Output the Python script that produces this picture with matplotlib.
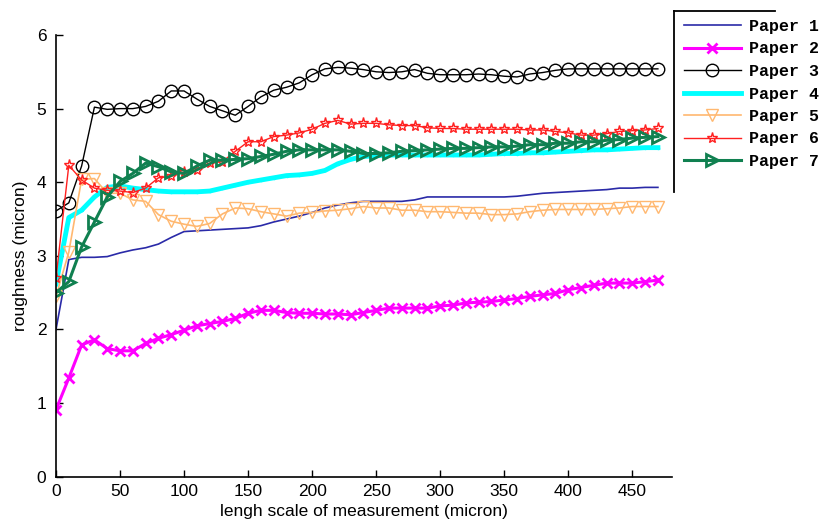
import matplotlib
matplotlib.use("Agg")
import matplotlib.pyplot as plt
from matplotlib.lines import Line2D

x = list(range(0, 480, 10))

paper1 = [2.00, 2.95, 2.98, 2.98, 2.99, 3.04, 3.08, 3.11, 3.16, 3.25,
          3.33, 3.34, 3.35, 3.36, 3.37, 3.38, 3.41, 3.46, 3.50, 3.54,
          3.59, 3.65, 3.69, 3.72, 3.74, 3.74, 3.74, 3.74, 3.76, 3.80,
          3.80, 3.80, 3.80, 3.80, 3.80, 3.80, 3.81, 3.83, 3.85, 3.86,
          3.87, 3.88, 3.89, 3.90, 3.92, 3.92, 3.93, 3.93]
paper2 = [0.91, 1.34, 1.79, 1.86, 1.74, 1.71, 1.71, 1.81, 1.88, 1.93,
          1.99, 2.05, 2.08, 2.11, 2.15, 2.22, 2.26, 2.26, 2.23, 2.22,
          2.22, 2.21, 2.21, 2.20, 2.23, 2.26, 2.29, 2.29, 2.29, 2.29,
          2.32, 2.33, 2.36, 2.37, 2.38, 2.40, 2.42, 2.45, 2.47, 2.49,
          2.54, 2.57, 2.60, 2.63, 2.63, 2.63, 2.65, 2.67]
paper3 = [3.61, 3.72, 4.22, 5.02, 4.99, 5.00, 5.00, 5.03, 5.10, 5.24,
          5.24, 5.13, 5.03, 4.97, 4.91, 5.03, 5.16, 5.25, 5.29, 5.35,
          5.46, 5.54, 5.56, 5.55, 5.53, 5.50, 5.49, 5.50, 5.53, 5.48,
          5.46, 5.46, 5.46, 5.47, 5.46, 5.44, 5.43, 5.47, 5.49, 5.52,
          5.54, 5.54, 5.54, 5.54, 5.54, 5.54, 5.54, 5.54]
paper4 = [2.62, 3.52, 3.62, 3.80, 3.93, 3.95, 3.92, 3.90, 3.88, 3.87,
          3.87, 3.87, 3.88, 3.92, 3.96, 4.00, 4.03, 4.06, 4.09, 4.10,
          4.12, 4.16, 4.25, 4.31, 4.35, 4.36, 4.37, 4.37, 4.37, 4.37,
          4.37, 4.37, 4.37, 4.37, 4.38, 4.39, 4.39, 4.40, 4.40, 4.41,
          4.42, 4.43, 4.44, 4.44, 4.45, 4.46, 4.47, 4.47]
paper5 = [2.45, 3.05, 4.04, 4.05, 3.85, 3.85, 3.76, 3.74, 3.56, 3.47,
          3.43, 3.40, 3.44, 3.57, 3.65, 3.64, 3.60, 3.57, 3.54, 3.58,
          3.59, 3.61, 3.62, 3.64, 3.67, 3.65, 3.65, 3.62, 3.62, 3.60,
          3.60, 3.59, 3.58, 3.58, 3.56, 3.56, 3.57, 3.60, 3.62, 3.63,
          3.63, 3.63, 3.63, 3.64, 3.65, 3.67, 3.67, 3.67]
paper6 = [2.70, 4.23, 4.03, 3.92, 3.89, 3.88, 3.86, 3.92, 4.06, 4.08,
          4.14, 4.16, 4.26, 4.28, 4.42, 4.55, 4.55, 4.62, 4.64, 4.67,
          4.72, 4.80, 4.84, 4.79, 4.80, 4.80, 4.78, 4.77, 4.77, 4.74,
          4.73, 4.73, 4.72, 4.72, 4.72, 4.72, 4.72, 4.71, 4.71, 4.69,
          4.67, 4.64, 4.64, 4.66, 4.69, 4.70, 4.71, 4.73]
paper7 = [2.50, 2.65, 3.12, 3.46, 3.80, 4.01, 4.12, 4.26, 4.21, 4.14,
          4.12, 4.22, 4.30, 4.30, 4.31, 4.32, 4.35, 4.38, 4.42, 4.44,
          4.44, 4.44, 4.44, 4.42, 4.39, 4.39, 4.40, 4.42, 4.43, 4.44,
          4.45, 4.46, 4.46, 4.47, 4.48, 4.48, 4.49, 4.51, 4.51, 4.53,
          4.53, 4.55, 4.55, 4.57, 4.58, 4.60, 4.61, 4.62]

labels = ["Paper 1", "Paper 2", "Paper 3", "Paper 4", "Paper 5", "Paper 6", "Paper 7"]
xticks = [0, 50, 100, 150, 200, 250, 300, 350, 400, 450]
yticks = [0, 1, 2, 3, 4, 5, 6]

plt.rcParams['font.family'] = ['Liberation Sans', 'DejaVu Sans']

fig = plt.figure(figsize=(8.34, 5.24), dpi=100)
ax = fig.add_axes([56/834, 1-476.7/524, (672-56)/834, (476.7-35)/524])

h1, = ax.plot(x, paper1, color='#2a2aa8', lw=1.2, label=labels[0])
h2, = ax.plot(x, paper2, color='#ff00ff', lw=2.2, marker='x', ms=7, mew=2, label=labels[1])
h3, = ax.plot(x, paper3, color='black', lw=1.0, marker='o', ms=9, mfc='none', mew=1.0, label=labels[2])
h4, = ax.plot(x, paper4, color='#00ffff', lw=3.5, marker='.', ms=3, label=labels[3])
h5, = ax.plot(x, paper5, color='#ffb870', lw=1.2, marker='v', ms=9, mfc='none', mew=1.0, label=labels[4])
h6, = ax.plot(x, paper6, color='#ff2020', lw=1.0, marker='*', ms=8, mfc='none', mew=1.0, label=labels[5])
h7, = ax.plot(x, paper7, color='#108050', lw=2.2, marker='>', ms=9, mfc='none', mew=2.0, label=labels[6])

ax.set_xlim(0, 481)
ax.set_ylim(0, 6)
ax.set_xticks(xticks)
ax.set_yticks(yticks)
ax.spines['top'].set_visible(False)
ax.spines['right'].set_visible(False)
for s in ('left', 'bottom'):
    ax.spines[s].set_linewidth(1.2)
ax.tick_params(direction='in', length=5, width=1, labelsize=12.5, pad=5)
ax.tick_params(axis='y', pad=7)
ax.set_xlabel("lengh scale of measurement (micron)", fontsize=12.5, labelpad=4)
ax.set_ylabel("roughness (micron)", fontsize=12.5, labelpad=6)

leg = fig.legend(handles=[h1, h2, h3, h4, h5, h6, h7], loc='upper left',
                 bbox_to_anchor=(684/834, 1-19/524), frameon=False,
                 prop={'family': 'Liberation Mono', 'weight': 'bold', 'size': 12},
                 handlelength=3.4, labelspacing=0.45, handletextpad=0.5,
                 borderaxespad=0, borderpad=0)

fig.add_artist(Line2D([674/834, 674/834], [1-11/524, 1-192/524], color='black', lw=1.3, transform=fig.transFigure))
fig.add_artist(Line2D([674/834, 775/834], [1-11/524, 1-11/524], color='black', lw=1.3, transform=fig.transFigure))

fig.savefig("out.png", dpi=100)
